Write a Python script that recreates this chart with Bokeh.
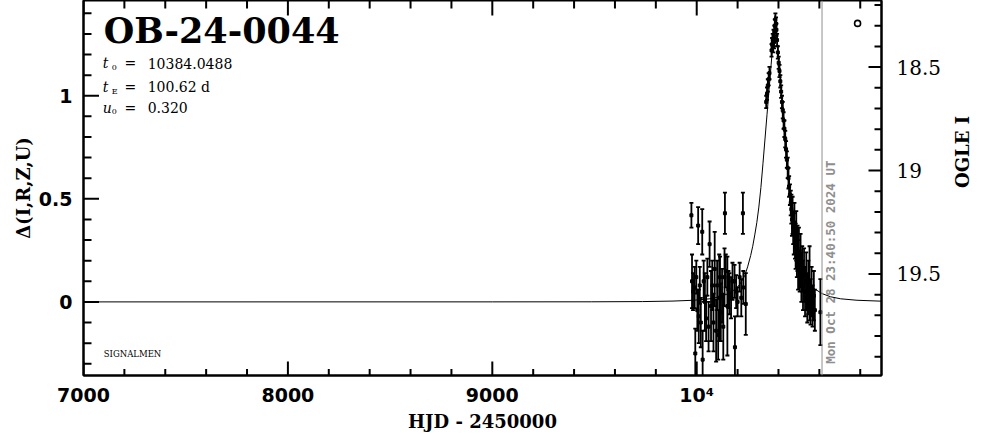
import math
from bokeh.plotting import figure
from bokeh.models import (Range1d, LinearAxis, SingleIntervalTicker, Span, Whisker,
                          TeeHead, ColumnDataSource)
from bokeh.core.properties import value
from bokeh.embed import file_html
from bokeh.resources import INLINE

# ---------------- data ----------------
event_name = "OB-24-0044"
param_symbols = ["t", "t", "u"]
param_subscripts = ["0", "E", "0"]
param_values = ["10384.0488", "100.62 d", "0.320"]
param_rows = [1.158, 1.042, 0.941]          # vertical placement (delta units)

date_stamp = "Mon Oct 28 23:40:50 2024 UT"
date_hjd = [10613]

x_range_lim = (7000, 10904)
delta_range_lim = (-0.357, 1.462)
mag_range_lim = (19.991, 18.178)

x_major_ticks = [7000, 8000, 9000, 10000]
x_minor_ticks = [7200, 7400, 7600, 7800, 8200, 8400, 8600, 8800, 9200, 9400,
                 9600, 9800, 10200, 10400, 10600, 10800]
left_major_ticks = [0, 0.5, 1]
left_minor_ticks = [-0.3, -0.2, -0.1, 0.1, 0.2, 0.3, 0.4, 0.6, 0.7, 0.8, 0.9,
                    1.1, 1.2, 1.3, 1.4]
right_major_ticks = [18.5, 19, 19.5]
right_minor_ticks = [18.2, 18.3, 18.4, 18.6, 18.7, 18.8, 18.9, 19.1, 19.2, 19.3,
                     19.4, 19.6, 19.7, 19.8, 19.9]

x_tick_overrides = {10000: "10\u2074"}
left_tick_overrides = {0: "0", 0.5: "0.5", 1: "1"}
right_tick_overrides = {18.5: "18.5", 19: "19", 19.5: "19.5"}

# model light curve (HJD-2450000, delta)
model_t = [7000, 9000, 9484, 9734, 9884, 9984, 10064, 10114, 10154, 10194, 10214,
           10234, 10249, 10264, 10274, 10284, 10294, 10304, 10314, 10324, 10334,
           10344, 10354, 10364, 10374, 10384, 10394, 10404, 10414, 10424, 10434,
           10444, 10454, 10464, 10474, 10484, 10494, 10504, 10519, 10534, 10554,
           10574, 10614, 10654, 10704, 10784, 10904]
model_delta = [0.0, 0.0002, 0.0005, 0.0015, 0.004, 0.008, 0.015, 0.025, 0.04, 0.065,
               0.09, 0.125, 0.17, 0.225, 0.27, 0.325, 0.385, 0.46, 0.555, 0.67,
               0.79, 0.91, 1.03, 1.15, 1.27, 1.39, 1.27, 1.15, 1.03, 0.91, 0.79,
               0.67, 0.555, 0.46, 0.385, 0.325, 0.27, 0.225, 0.17, 0.125, 0.09,
               0.065, 0.04, 0.025, 0.015, 0.008, 0.0035]

# observations: HJD-2450000, delta, error
obs_t = [9974, 9977, 9982, 9990, 9993, 9998, 10003, 10007, 10010, 10015, 10020,
         10027, 10029, 10034, 10040, 10046, 10052, 10058, 10063, 10070, 10076,
         10082, 10088, 10095, 10100, 10105, 10110, 10114, 10118, 10124, 10130,
         10136, 10138, 10142, 10150, 10155, 10160, 10168, 10175, 10185, 10187,
         10193, 10200, 10210, 10218, 10226, 10228, 10240,
         10340, 10344, 10348, 10352, 10356, 10366, 10369, 10372, 10374, 10376,
         10378, 10380, 10382, 10385, 10388, 10390, 10393, 10397, 10401, 10405,
         10409, 10413, 10417, 10421, 10425, 10429, 10433, 10437, 10441, 10445,
         10449,
         10452, 10456, 10460, 10463, 10466, 10469, 10472, 10475, 10478, 10481,
         10484, 10487, 10490, 10493, 10496, 10500, 10504, 10508, 10512, 10516,
         10520, 10525, 10530, 10536, 10541, 10546, 10552, 10557, 10562, 10567,
         10573, 10578, 10605]
obs_delta = [0.42, 0.10, 0.05, 0.07, -0.25, 0.12, -0.04, 0.37, -0.07, 0.08, -0.10,
             0.34, -0.28, 0.10, 0.00, -0.08, 0.12, -0.12, 0.28, -0.02, 0.08,
             -0.10, 0.16, -0.14, 0.08, -0.16, 0.02, 0.12, -0.05, 0.03, -0.12,
             0.12, 0.43, 0.15, -0.02, 0.06, 0.04, 0.02, 0.10, 0.10, -0.22,
             0.05, 0.00, 0.12, 0.02, 0.43, 0.07, -0.01,
             0.97, 1.01, 1.05, 1.08, 1.11, 1.22, 1.25, 1.27, 1.24, 1.29,
             1.26, 1.31, 1.34, 1.37, 1.35, 1.32, 1.27, 1.21, 1.16, 1.12,
             1.07, 1.02, 0.97, 0.93, 0.88, 0.84, 0.79, 0.74, 0.69, 0.65,
             0.60,
             0.56, 0.52, 0.48, 0.45, 0.40, 0.42, 0.36, 0.33, 0.38, 0.30,
             0.27, 0.32, 0.22, 0.26, 0.18, 0.24, 0.15, 0.20, 0.12, 0.16,
             0.08, 0.13, 0.05, 0.10, 0.02, 0.07, 0.09, 0.00, 0.05, -0.02,
             0.03, -0.04, -0.05]
obs_err = [0.06, 0.13, 0.09, 0.10, 0.12, 0.08, 0.10, 0.09, 0.13, 0.09, 0.12,
           0.11, 0.14, 0.10, 0.14, 0.11, 0.09, 0.12, 0.11, 0.17, 0.12,
           0.14, 0.18, 0.15, 0.12, 0.12, 0.21, 0.10, 0.14, 0.13, 0.16,
           0.14, 0.10, 0.08, 0.24, 0.09, 0.10, 0.10, 0.09, 0.08, 0.15,
           0.08, 0.07, 0.07, 0.09, 0.10, 0.08, 0.15,
           0.03, 0.03, 0.03, 0.03, 0.03, 0.03, 0.03, 0.03, 0.03, 0.03,
           0.03, 0.03, 0.03, 0.03, 0.03, 0.03, 0.03, 0.03, 0.03, 0.03,
           0.03, 0.03, 0.03, 0.04, 0.04, 0.04, 0.04, 0.04, 0.04, 0.05,
           0.05,
           0.05, 0.05, 0.06, 0.07, 0.08, 0.09, 0.08, 0.10, 0.10, 0.09,
           0.11, 0.12, 0.10, 0.11, 0.12, 0.12, 0.10, 0.13, 0.12, 0.11,
           0.12, 0.13, 0.12, 0.14, 0.12, 0.13, 0.18, 0.11, 0.12, 0.10,
           0.12, 0.10, 0.16]

legend_marker_t = [10787]
legend_marker_delta = [1.351]

signalmen_pos = (7099, -0.253)
title_pos = (7099, 1.317)
param_x = (7094, 7138, 7201, 7314)   # symbol, subscript, "=", value
date_text_y = -0.30

# ---------------- figure ----------------
SERIF = "DejaVu Serif"
SANS = "DejaVu Sans"

p = figure(width=986, height=434,
           x_range=Range1d(*x_range_lim), y_range=Range1d(*delta_range_lim),
           output_backend="svg", toolbar_location=None,
           min_border_left=83, min_border_right=103, min_border_top=0,
           min_border_bottom=57)
p.grid.visible = False
p.outline_line_color = "black"
p.outline_line_width = 2
p.background_fill_color = "white"

p.extra_y_ranges = {"mag": Range1d(start=mag_range_lim[0], end=mag_range_lim[1])}


def style_axis(ax):
    ax.axis_line_width = 2
    ax.major_tick_in = 0
    ax.major_tick_out = 0
    ax.minor_tick_in = 0
    ax.minor_tick_out = 0
    ax.major_tick_line_color = None
    ax.minor_tick_line_color = None
    ax.major_label_text_color = "black"
    ax.axis_label_text_color = "black"


# bottom axis
xa = p.xaxis[0]
xa.ticker = SingleIntervalTicker(interval=1000, num_minor_ticks=5)
style_axis(xa)
xa.major_label_overrides = x_tick_overrides
xa.major_label_text_font = SANS
xa.major_label_text_font_style = "bold"
xa.major_label_text_font_size = "19px"
xa.major_label_standoff = 8
xa.axis_label = "HJD - 2450000"
xa.axis_label_text_font = SERIF
xa.axis_label_text_font_style = "bold"
xa.axis_label_text_font_size = "18px"
xa.axis_label_standoff = 2

# left axis
ya = p.yaxis[0]
ya.ticker = SingleIntervalTicker(interval=0.5, num_minor_ticks=5)
style_axis(ya)
ya.major_label_overrides = left_tick_overrides
ya.major_label_text_font = SANS
ya.major_label_text_font_style = "bold"
ya.major_label_text_font_size = "19px"
ya.major_label_standoff = 11
ya.axis_label = "\u0394(I,R,Z,U)"
ya.axis_label_text_font = SERIF
ya.axis_label_text_font_style = "bold"
ya.axis_label_text_font_size = "18px"
ya.axis_label_standoff = 2

# right axis (OGLE I magnitude)
ra = LinearAxis(y_range_name="mag",
                ticker=SingleIntervalTicker(interval=0.5, num_minor_ticks=5))
style_axis(ra)
ra.major_label_overrides = right_tick_overrides
ra.major_label_text_font = SERIF
ra.major_label_text_font_size = "20px"
ra.major_label_standoff = 15
ra.axis_label = "OGLE I"
ra.axis_label_text_font = SERIF
ra.axis_label_text_font_style = "bold"
ra.axis_label_text_font_size = "18px"
ra.axis_label_standoff = 18
if "axis_label_orientation" in ra.properties():
    ra.axis_label_orientation = math.pi / 2
p.add_layout(ra, "right")

# tick marks drawn inward (dash markers centred on the frame edges, clipped)
TK = dict(marker="dash", line_color="black", line_width=2)
p.scatter(x_major_ticks, [delta_range_lim[0]] * len(x_major_ticks), size=28,
          angle=math.pi / 2, **TK)
p.scatter(x_minor_ticks, [delta_range_lim[0]] * len(x_minor_ticks), size=13,
          angle=math.pi / 2, **TK)
p.scatter(x_major_ticks, [delta_range_lim[1]] * len(x_major_ticks), size=30,
          angle=math.pi / 2, **TK)
p.scatter(x_minor_ticks, [delta_range_lim[1]] * len(x_minor_ticks), size=16,
          angle=math.pi / 2, **TK)
p.scatter([x_range_lim[0]] * len(left_major_ticks), left_major_ticks, size=31, **TK)
p.scatter([x_range_lim[0]] * len(left_minor_ticks), left_minor_ticks, size=16, **TK)
p.scatter([x_range_lim[1]] * len(right_major_ticks), right_major_ticks, size=26,
          y_range_name="mag", **TK)
p.scatter([x_range_lim[1]] * len(right_minor_ticks), right_minor_ticks, size=14,
          y_range_name="mag", **TK)

# date line
p.add_layout(Span(location=date_hjd[0], dimension="height",
                  line_color="#8f8f8f", line_width=1))
p.text(x=date_hjd, y=[date_text_y], text=[date_stamp], angle=math.pi / 2,
       x_offset=8, text_align="left", text_baseline="middle",
       text_font=value("DejaVu Sans Mono"), text_font_style="bold",
       text_font_size="12.5px", text_color="#8f8f8f")

# model curve
p.line(model_t, model_delta, line_color="black", line_width=1)

# observations with error bars
lo = [d - e for d, e in zip(obs_delta, obs_err)]
hi = [d + e for d, e in zip(obs_delta, obs_err)]
src = ColumnDataSource(dict(t=obs_t, d=obs_delta, lo=lo, hi=hi))
p.add_layout(Whisker(source=src, base="t", lower="lo", upper="hi",
                     dimension="height", line_color="black", line_width=1.8,
                     lower_head=TeeHead(size=4, line_width=1.8, line_color="black"),
                     upper_head=TeeHead(size=4, line_width=1.8, line_color="black")))
p.scatter("t", "d", source=src, marker="square", size=3,
          fill_color="black", line_color="black")

# legend marker (small open circle)
p.scatter(legend_marker_t, legend_marker_delta, marker="circle", size=6,
          fill_color=None, line_color="black", line_width=1.6)

# title and parameter texts
p.text(x=[title_pos[0]], y=[title_pos[1]], text=[event_name],
       text_font=value(SERIF), text_font_style="bold", text_font_size="35px",
       text_align="left", text_baseline="middle", text_color="black")

p.text(x=[param_x[0]] * 3, y=param_rows, text=param_symbols,
       text_font=value(SERIF), text_font_style="italic", text_font_size="14px",
       text_align="left", text_baseline="middle", text_color="black")
p.text(x=[param_x[1]] * 3, y=param_rows, text=param_subscripts, y_offset=4,
       text_font=value(SERIF), text_font_size="8px",
       text_align="left", text_baseline="middle", text_color="black")
p.text(x=[param_x[2]] * 3, y=param_rows, text=["="] * 3,
       text_font=value(SERIF), text_font_size="14px",
       text_align="left", text_baseline="middle", text_color="black")
p.text(x=[param_x[3]] * 3, y=param_rows, text=param_values,
       text_font=value(SERIF), text_font_size="14px",
       text_align="left", text_baseline="middle", text_color="black")

p.text(x=[signalmen_pos[0]], y=[signalmen_pos[1]], text=["SIGNALMEN"],
       text_font=value(SERIF), text_font_size="8.5px",
       text_align="left", text_baseline="middle", text_color="black")

open("out.html", "w").write(file_html(p, INLINE))
